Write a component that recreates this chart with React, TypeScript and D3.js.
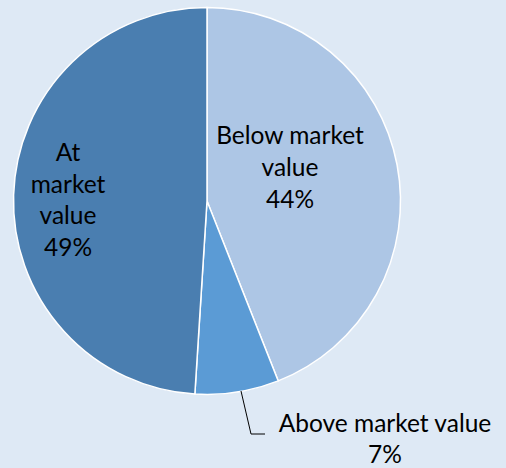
import React from "react";
import * as d3 from "d3";

const categories = ["Below market value", "Above market value", "At market value"];
const values = [44, 7, 49];
const colors = ["#adc6e5", "#5b9bd5", "#4a7eb0"];

export default function App() {
  const W = 506, H = 468;
  const cx = 207, cy = 201, r = 193.5;
  const pie = d3.pie<number>().sort(null).value((d) => d)(values);
  const arc = d3.arc<d3.PieArcDatum<number>>().innerRadius(0).outerRadius(r);
  const font = "Lato, 'Open Sans', sans-serif";
  const fs = 24.5;
  const lbl = (lines: string[], x: number, y0: number, dy: number) =>
    lines.map((t, i) => (
      <text key={i} x={x} y={y0 + i * dy} textAnchor="middle" fontFamily={font} fontSize={fs} fill="#000">{t}</text>
    ));
  return (
    <svg width={W} height={H} style={{ position: "absolute", left: 0, top: 0 }}>
      <rect width={W} height={H} fill="#dee9f5" />
      <g transform={`translate(${cx},${cy})`}>
        {pie.map((d, i) => (
          <path key={i} d={arc(d) as string} fill={colors[i]} stroke="#ffffff" strokeWidth={1.5} />
        ))}
      </g>
      {lbl(["Below market", "value", `${values[0]}%`], 290, 144, 32)}
      {lbl(["At", "market", "value", `${values[2]}%`], 68, 161, 31.5)}
      {lbl(["Above market value", `${values[1]}%`], 385, 432, 31)}
      <polyline points="241,391 251,434 265,434" fill="none" stroke="#000" strokeWidth={1} />
    </svg>
  );
}
